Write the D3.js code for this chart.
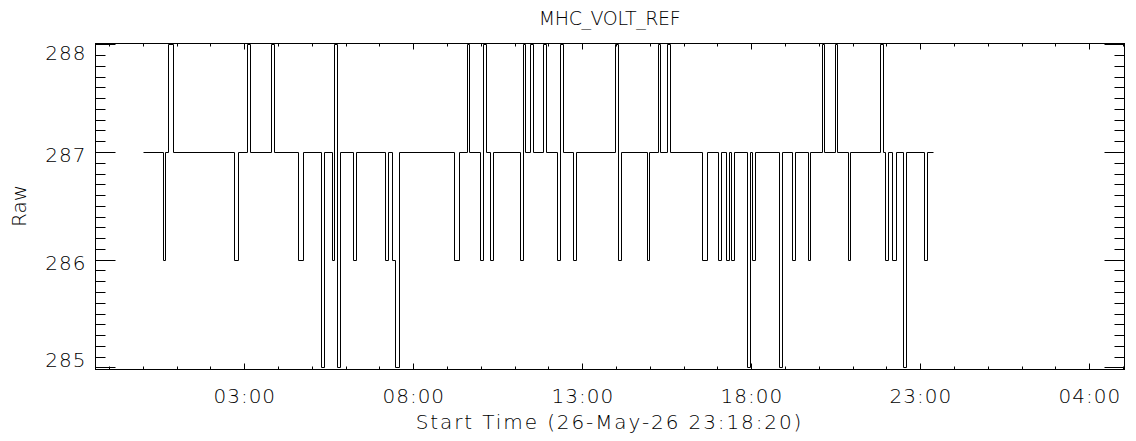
<!DOCTYPE html>
<html>
<head>
    <meta charset="utf-8">
    <title>MHC_VOLT_REF</title>
    <script src="https://d3js.org/d3.v7.min.js"></script>
    <style>
        body {
            margin: 0;
            background: #fff;
            overflow: hidden;
        }
        text {
            font-family: "DejaVu Sans", sans-serif;
            font-weight: 200;
            font-size: 20px;
            fill: #000;
        }
        .xlab, .ylab {
            letter-spacing: 1px;
        }
        .xtitle {
            letter-spacing: 1.9px;
        }
        .title {
            font-size: 19px;
            letter-spacing: -0.4px;
        }
        .frame {
            fill: none;
            stroke: #000;
            stroke-width: 1px;
        }
        .tick {
            stroke: #000;
            stroke-width: 1px;
        }
        .trace {
            fill: none;
            stroke: #000;
            stroke-width: 1px;
        }
    </style>
</head>
<body>
    <svg width="1136" height="441"></svg>

    <script>
    // sample times (27-May-26, HH:MM) where the raw value changes, and the value from then on
    const changeTimes = [
        "00:01", "00:35", "00:40", "00:45", "00:54", "02:42", "02:48", "03:05", "03:11", "03:48",
        "03:52", "04:35", "04:44", "05:17", "05:22", "05:35", "05:40", "05:45", "05:50", "06:13",
        "06:19", "07:10", "07:15", "07:23", "07:28", "07:34", "09:12", "09:22", "09:35", "09:39",
        "09:58", "10:03", "10:09", "10:17", "10:22", "11:09", "11:14", "11:19", "11:28", "11:32",
        "11:51", "11:56", "12:15", "12:20", "12:25", "12:43", "12:48", "13:58", "14:03", "14:08",
        "14:54", "14:59", "15:14", "15:18", "15:31", "15:36", "16:33", "16:42", "17:01", "17:06",
        "17:15", "17:20", "17:24", "17:29", "17:53", "17:58", "18:02", "18:07", "18:49", "18:54",
        "19:12", "19:17", "19:40", "19:45", "20:05", "20:09", "20:28", "20:32", "20:51", "20:56",
        "21:48", "21:53", "21:57", "22:02", "22:10", "22:16", "22:30", "22:35", "23:07", "23:12",
        "23:23"
    ];
    const rawValues = [
        287, 286, 287, 288, 287, 286, 287, 288, 287, 288,
        287, 286, 287, 285, 287, 286, 288, 285, 287, 286,
        287, 286, 287, 286, 285, 287, 286, 287, 288, 287,
        286, 288, 287, 286, 287, 286, 288, 287, 288, 287,
        288, 287, 286, 288, 287, 286, 287, 288, 286, 287,
        286, 287, 288, 287, 288, 287, 286, 287, 286, 287,
        286, 287, 286, 287, 285, 287, 286, 287, 285, 287,
        286, 287, 286, 287, 288, 287, 288, 287, 286, 287,
        288, 287, 286, 287, 286, 287, 285, 287, 286, 287,
        287
    ];

    const yTicks = [285, 286, 287, 288];
    const xTickTimes = [
        "2026-05-27T03:00:00Z", "2026-05-27T08:00:00Z", "2026-05-27T13:00:00Z",
        "2026-05-27T18:00:00Z", "2026-05-27T23:00:00Z", "2026-05-28T04:00:00Z"
    ];
    const xStart = "2026-05-26T22:35:00Z";
    const xEnd = "2026-05-28T05:01:36Z";
    const yStart = 284.985;
    const yEnd = 288.012;

    const titleText = "MHC_VOLT_REF";
    const xTitle = "Start Time (26-May-26 23:18:20)";
    const yTitle = "Raw";

    // layout
    const margin = { left: 95, top: 43, right: 12, bottom: 72 };
    const width = 1136 - margin.left - margin.right;
    const height = 441 - margin.top - margin.bottom;

    let svg = d3.select("svg");
    let g = svg.append("g")
        .attr("transform", `translate(${margin.left + 0.5},${margin.top + 0.5})`);

    const parseDay = d3.utcParse("%Y-%m-%d %H:%M");
    const data = changeTimes.map((t, i) => ({
        time: parseDay("2026-05-27 " + t),
        value: rawValues[i]
    }));

    let x = d3.scaleUtc()
        .domain([new Date(xStart), new Date(xEnd)])
        .range([0, width]);

    let y = d3.scaleLinear()
        .domain([yStart, yEnd])
        .range([height, 0]);

    const majorX = xTickTimes.map(s => new Date(s));
    const minorX = d3.utcHour.range(x.domain()[0], x.domain()[1])
        .filter(d => !majorX.some(m => +m === +d));
    const minorY = d3.range(yTicks[0] - 1, yTicks[yTicks.length - 1] + 1.001, 0.1)
        .map(v => Math.round(v * 10) / 10)
        .filter(v => v > yStart && v < yEnd && !yTicks.includes(v));

    // x ticks on bottom and top, pointing inwards
    function xTickLines(ticks, len) {
        g.selectAll(null).data(ticks).enter().append("line")
            .attr("class", "tick")
            .attr("x1", d => Math.round(x(d))).attr("x2", d => Math.round(x(d)))
            .attr("y1", height).attr("y2", height - len);
        g.selectAll(null).data(ticks).enter().append("line")
            .attr("class", "tick")
            .attr("x1", d => Math.round(x(d))).attr("x2", d => Math.round(x(d)))
            .attr("y1", 0).attr("y2", len);
    }
    xTickLines(majorX, 6);
    xTickLines(minorX, 3);

    // y ticks on left and right
    function yTickLines(ticks, len) {
        g.selectAll(null).data(ticks).enter().append("line")
            .attr("class", "tick")
            .attr("x1", 0).attr("x2", len)
            .attr("y1", d => Math.round(y(d))).attr("y2", d => Math.round(y(d)));
        g.selectAll(null).data(ticks).enter().append("line")
            .attr("class", "tick")
            .attr("x1", width).attr("x2", width - len)
            .attr("y1", d => Math.round(y(d))).attr("y2", d => Math.round(y(d)));
    }
    yTickLines(yTicks, 20);
    yTickLines(minorY, 10);

    // frame
    g.append("rect")
        .attr("class", "frame")
        .attr("width", width)
        .attr("height", height);

    // trace
    let line = d3.line()
        .x(d => Math.round(x(d.time)))
        .y(d => Math.round(y(d.value)))
        .curve(d3.curveStepAfter);

    g.append("path")
        .datum(data)
        .attr("class", "trace")
        .attr("d", line);

    // tick labels
    const fmt = d3.utcFormat("%H:%M");
    g.selectAll(".xlab").data(majorX).enter().append("text")
        .attr("class", "xlab")
        .attr("x", d => x(d))
        .attr("y", height + 33)
        .attr("text-anchor", "middle")
        .text(d => fmt(d));

    g.selectAll(".ylab").data(yTicks).enter().append("text")
        .attr("class", "ylab")
        .attr("x", -9)
        .attr("y", d => Math.min(Math.max(y(d) + 10, 16), height - 3))
        .attr("text-anchor", "end")
        .text(d => d);

    // titles
    svg.append("text")
        .attr("class", "title")
        .attr("x", margin.left + width / 2)
        .attr("y", 25)
        .attr("text-anchor", "middle")
        .text(titleText);

    svg.append("text")
        .attr("class", "xtitle")
        .attr("x", margin.left + width / 2)
        .attr("y", 429)
        .attr("text-anchor", "middle")
        .text(xTitle);

    svg.append("text")
        .attr("transform", `translate(26,${margin.top + height / 2}) rotate(-90)`)
        .attr("text-anchor", "middle")
        .text(yTitle);
    </script>
</body>
</html>
